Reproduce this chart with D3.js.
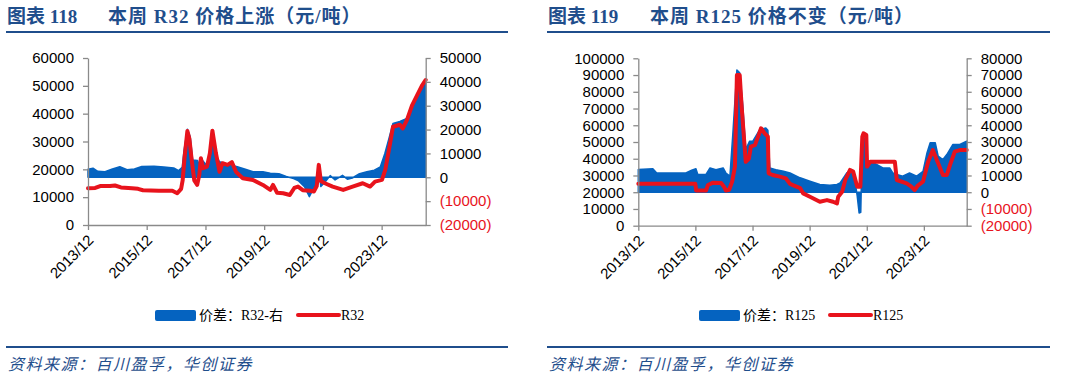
<!DOCTYPE html>
<html>
<head>
<meta charset="utf-8">
<script src="https://cdn.jsdelivr.net/npm/d3@7"></script>
<style>
  body { margin:0; background:#fff; }
  svg { display:block; }
  .tick text { font-family:"Liberation Sans", Arial, sans-serif; }
</style>
</head>
<body>
<svg id="chart" width="1066" height="380"></svg>
<script>
// ---- data ----
var xTickDates = ["2013-12-01","2015-12-01","2017-12-01","2019-12-01","2021-12-01","2023-12-01"]
var xStart = "2013-12-01", xEnd = "2025-06-01"

// R32 price (left axis)
var r32Dates = ["2013-12-01","2014-03-01","2014-05-01","2014-09-01","2014-11-01","2015-01-15","2015-06-01","2015-08-15","2015-10-15","2016-05-01","2016-10-15","2016-12-15","2017-02-01","2017-02-20","2017-03-15","2017-04-20","2017-05-15","2017-06-10","2017-07-15","2017-08-20","2017-09-15","2017-10-05","2017-11-01","2017-12-20","2018-01-25","2018-02-25","2018-04-10","2018-05-25","2018-07-01","2018-09-01","2018-10-25","2018-12-15","2019-03-10","2019-07-15","2019-11-15","2020-02-15","2020-03-20","2020-05-10","2020-07-25","2020-10-15","2020-12-10","2021-01-25","2021-03-25","2021-06-25","2021-08-10","2021-09-15","2021-10-10","2021-11-05","2021-12-25","2022-04-01","2022-08-10","2022-12-05","2023-04-10","2023-07-10","2023-09-10","2023-12-05","2024-01-15","2024-03-15","2024-04-20","2024-07-15","2024-08-20","2024-10-10","2024-12-15","2025-02-15","2025-04-20","2025-06-01"]
var r32Values = [13200,13300,14000,14000,14200,13500,13200,13000,12500,12300,12300,11400,13000,16000,24000,33800,31000,24000,16000,14400,18000,24000,20400,21000,25800,33900,25800,19100,22200,21600,22600,19100,16800,16200,14400,12600,14400,11600,11400,10800,13300,13800,12500,12300,12000,14000,21600,15800,15000,13800,12600,13800,15000,13800,15600,16200,19800,29300,35300,36000,34700,37700,43100,46700,50300,52100]

// spread R32 (right axis)
var r32SpreadDates = ["2013-12-01","2014-02-01","2014-04-01","2014-07-01","2014-10-01","2015-01-01","2015-04-01","2015-07-01","2015-10-01","2016-03-01","2016-07-01","2016-11-01","2017-01-01","2017-02-15","2017-03-10","2017-04-20","2017-05-25","2017-06-25","2017-08-25","2017-09-20","2017-10-20","2017-12-15","2018-02-25","2018-04-15","2018-05-25","2018-08-01","2018-11-01","2019-01-01","2019-04-01","2019-07-15","2019-11-15","2020-02-15","2020-06-01","2020-09-01","2020-12-01","2021-02-01","2021-04-15","2021-06-15","2021-08-01","2021-09-20","2021-10-10","2021-11-05","2022-01-01","2022-03-01","2022-05-01","2022-08-01","2022-10-01","2022-12-01","2023-03-01","2023-06-01","2023-09-01","2023-11-15","2024-01-10","2024-02-25","2024-04-20","2024-07-15","2024-10-10","2024-12-25","2025-03-15","2025-06-01"]
var r32SpreadValues = [3400,3800,2500,2300,3500,4400,3200,3500,4500,4600,4300,3900,2800,4200,11400,20100,17000,7200,7000,4500,7200,5000,14200,9000,6500,5800,5000,4400,3500,2300,2300,1700,1500,300,-500,-1500,-3900,-8100,-5000,-2000,4400,-3900,-1800,700,-1100,800,-800,-300,1500,2300,3000,4400,10000,15600,22600,23400,24700,29600,35200,40100]

// R125 price (left axis)
var r125Dates = ["2013-12-01","2015-12-01","2015-12-10","2016-04-15","2016-05-10","2016-07-15","2016-10-25","2016-12-01","2016-12-25","2017-02-05","2017-03-15","2017-04-20","2017-05-15","2017-06-20","2017-07-15","2017-08-25","2017-09-05","2017-10-15","2017-11-10","2018-01-01","2018-02-10","2018-03-20","2018-05-05","2018-06-15","2018-06-25","2018-08-15","2018-11-15","2019-01-30","2019-03-25","2019-05-01","2019-08-01","2019-09-10","2019-12-05","2020-04-10","2020-07-10","2020-09-25","2020-11-15","2020-12-01","2021-01-20","2021-03-01","2021-05-01","2021-06-10","2021-08-01","2021-09-10","2021-10-05","2021-10-20","2021-11-25","2021-12-05","2022-01-15","2022-11-25","2022-12-20","2023-04-25","2023-06-20","2023-08-05","2023-09-15","2023-11-20","2024-01-25","2024-03-25","2024-05-15","2024-08-01","2024-09-20","2024-10-30","2024-12-30","2025-03-05","2025-06-01"]
var r125Values = [25000,25000,21000,21000,24300,25700,25500,23300,21000,21500,26300,35300,90000,90000,71000,45200,38200,40000,47200,48200,53200,58200,55200,53200,31300,30300,29300,28300,25000,24300,22500,19300,17300,14300,15300,14300,13300,17300,20300,27300,33300,32300,23300,23300,53200,55200,54200,35300,38200,38200,27300,25300,23500,21300,24000,26300,38200,45200,39200,30300,30300,36200,44200,45200,45200]

// spread R125 (right axis)
var r125SpreadDates = ["2013-12-01","2014-06-05","2014-07-25","2015-08-01","2015-10-15","2015-12-08","2016-01-01","2016-04-15","2016-06-05","2016-08-20","2016-11-20","2016-12-25","2017-02-15","2017-03-25","2017-05-15","2017-06-20","2017-07-30","2017-09-05","2017-10-25","2017-12-05","2018-03-05","2018-05-20","2018-06-15","2018-07-10","2018-09-25","2019-01-01","2019-03-25","2019-08-01","2019-12-05","2020-04-10","2020-08-15","2020-11-15","2020-12-25","2021-03-20","2021-05-25","2021-07-01","2021-08-01","2021-08-25","2021-09-15","2021-09-25","2021-10-05","2021-11-15","2021-12-05","2022-01-15","2022-04-10","2022-06-25","2022-09-20","2022-10-30","2022-12-20","2023-03-05","2023-06-01","2023-09-01","2023-11-20","2024-01-10","2024-02-20","2024-04-25","2024-06-01","2024-08-01","2024-09-20","2024-12-05","2025-03-05","2025-06-01"]
var r125SpreadValues = [13500,14000,11500,11500,13100,14000,10600,10600,14500,13500,14500,11500,9600,35500,73000,71300,51400,25500,30500,30500,37500,38400,37000,14500,13500,12500,11500,8600,6600,4600,4200,4600,5600,11500,13500,7600,-2400,-12400,-12000,10000,33500,31500,15500,18500,16500,14500,14500,11500,10600,9600,11500,9600,12500,23500,29500,29500,21500,19500,22500,28500,28500,30500]

var leftTicks1 = [0,10000,20000,30000,40000,50000,60000]
var rightTicks1 = [-20000,-10000,0,10000,20000,30000,40000,50000]
var leftTicks2 = d3.range(0, 100001, 10000)
var rightTicks2 = d3.range(-20000, 80001, 10000)

// ---- styles ----
var blue = "#0563C0", red = "#E8131C", navy = "#1F4E8C", axisGray = "#8a8a8a"
var parseDate = d3.timeParse("%Y-%m-%d")
var svg = d3.select("#chart")

function fmtRight(v) { return v < 0 ? "(" + (-v) + ")" : "" + v }

function drawPanel(p) {
  var g = svg.append("g")

  // title + rule
  g.append("text").attr("x", p.titleX).attr("y", 23)
    .attr("font-family", "'Liberation Serif','Noto Sans CJK SC',serif")
    .attr("font-weight", "bold").attr("font-size", "19px").attr("fill", navy)
    .text(p.titleNo)
  g.append("text").attr("x", p.titleX2).attr("y", 23)
    .attr("font-family", "'Liberation Serif','Noto Sans CJK SC',serif")
    .attr("font-weight", "bold").attr("font-size", "19px").attr("letter-spacing", "1px").attr("fill", navy)
    .text(p.title)
  g.append("line").attr("x1", p.ruleX1).attr("x2", p.ruleX2).attr("y1", 32).attr("y2", 32)
    .attr("stroke", navy).attr("stroke-width", 2)

  var x = d3.scaleTime().domain([parseDate(xStart), parseDate(xEnd)]).range([p.x0, p.x1])
  var yL = d3.scaleLinear().domain(p.leftDomain).range([p.yBot, p.yTop])
  var yR = d3.scaleLinear().domain(p.rightDomain).range([p.yBot, p.yTop])

  var spread = p.spreadDates.map(function(d, i) { return {d: parseDate(d), v: p.spreadValues[i]} })
  var price = p.priceDates.map(function(d, i) { return {d: parseDate(d), v: p.priceValues[i]} })

  var area = d3.area()
    .x(function(d) { return x(d.d) })
    .y0(yR(0))
    .y1(function(d) { return yR(d.v) })
  g.append("path").datum(spread).attr("d", area)
    .attr("fill", blue).attr("stroke", blue).attr("stroke-width", 1.5).attr("stroke-linejoin", "round")

  var line = d3.line().x(function(d) { return x(d.d) }).y(function(d) { return yL(d.v) })
  g.append("path").datum(price).attr("d", line)
    .attr("fill", "none").attr("stroke", red).attr("stroke-width", 4)
    .attr("stroke-linejoin", "round").attr("stroke-linecap", "round")

  // left axis
  var ga = g.append("g").attr("transform", "translate(" + p.x0 + ",0)")
    .call(d3.axisLeft(yL).tickValues(p.leftTicks).tickSize(5).tickSizeOuter(0).tickPadding(9).tickFormat(d3.format("d")))
  // right axis
  var gr = g.append("g").attr("transform", "translate(" + p.x1 + ",0)")
    .call(d3.axisRight(yR).tickValues(p.rightTicks).tickSize(5).tickSizeOuter(0).tickPadding(9).tickFormat(fmtRight))
  gr.selectAll(".tick text").attr("fill", function(d) { return d < 0 ? red : "#000" })
  // bottom axis
  var gx = g.append("g").attr("transform", "translate(0," + p.yBot + ")")
    .call(d3.axisBottom(x).tickValues(xTickDates.map(parseDate)).tickSize(5).tickSizeOuter(0).tickFormat(d3.timeFormat("%Y/%m")))
  gx.selectAll(".tick text")
    .attr("text-anchor", "end").attr("dy", null).attr("y", null)
    .attr("transform", "translate(6,16) rotate(-45)")

  ;[ga, gr, gx].forEach(function(a) {
    a.selectAll("text").attr("font-size", "15px").attr("font-family", "'Liberation Sans',Arial,sans-serif")
    a.selectAll(".domain").attr("stroke", axisGray).attr("stroke-width", 1.3)
    a.selectAll(".tick line").attr("stroke", axisGray).attr("stroke-width", 1.3)
  })
  ga.selectAll(".tick text").attr("fill", "#000")
  gx.selectAll(".tick text").attr("fill", "#000")

  // legend
  g.append("rect").attr("x", p.legX).attr("y", 310).attr("width", 41).attr("height", 11).attr("rx", 2)
    .attr("fill", blue)
  g.append("text").attr("x", p.legX + 44).attr("y", 320)
    .attr("font-family", "'Liberation Serif','Noto Sans CJK SC',serif").attr("font-size", "14px")
    .text(p.spreadName)
  g.append("line").attr("x1", p.legX2).attr("x2", p.legX2 + 41).attr("y1", 315).attr("y2", 315)
    .attr("stroke", red).attr("stroke-width", 4).attr("stroke-linecap", "round")
  g.append("text").attr("x", p.legX2 + 43).attr("y", 320)
    .attr("font-family", "'Liberation Serif','Noto Sans CJK SC',serif").attr("font-size", "14px")
    .text(p.priceName)

  // bottom rule + source
  g.append("line").attr("x1", p.ruleX1).attr("x2", p.ruleX2).attr("y1", 347).attr("y2", 347)
    .attr("stroke", navy).attr("stroke-width", 2)
  g.append("text").attr("x", p.titleX + 1).attr("y", 370)
    .attr("font-family", "'Noto Sans CJK SC',sans-serif").attr("font-style", "italic")
    .attr("font-size", "16px").attr("letter-spacing", "1.5px").attr("fill", navy)
    .text("资料来源：百川盈孚，华创证券")
}

drawPanel({
  titleX: 7, titleX2: 108, titleNo: "图表  118", title: "本周 R32 价格上涨（元/吨）",
  ruleX1: 6, ruleX2: 508,
  x0: 88, x1: 425.7, yTop: 58, yBot: 225,
  leftDomain: [0, 60000], rightDomain: [-20000, 50000],
  leftTicks: leftTicks1, rightTicks: rightTicks1,
  priceDates: r32Dates, priceValues: r32Values,
  spreadDates: r32SpreadDates, spreadValues: r32SpreadValues,
  legX: 155, legX2: 298, spreadName: "价差：R32-右", priceName: "R32"
})

drawPanel({
  titleX: 548, titleX2: 650, titleNo: "图表  119", title: "本周 R125 价格不变（元/吨）",
  ruleX1: 547, ruleX2: 1050,
  x0: 638.3, x1: 966.7, yTop: 58.3, yBot: 225.7,
  leftDomain: [0, 100000], rightDomain: [-20000, 80000],
  leftTicks: leftTicks2, rightTicks: rightTicks2,
  priceDates: r125Dates, priceValues: r125Values,
  spreadDates: r125SpreadDates, spreadValues: r125SpreadValues,
  legX: 699, legX2: 830, spreadName: "价差：R125", priceName: "R125"
})
</script>
</body>
</html>
